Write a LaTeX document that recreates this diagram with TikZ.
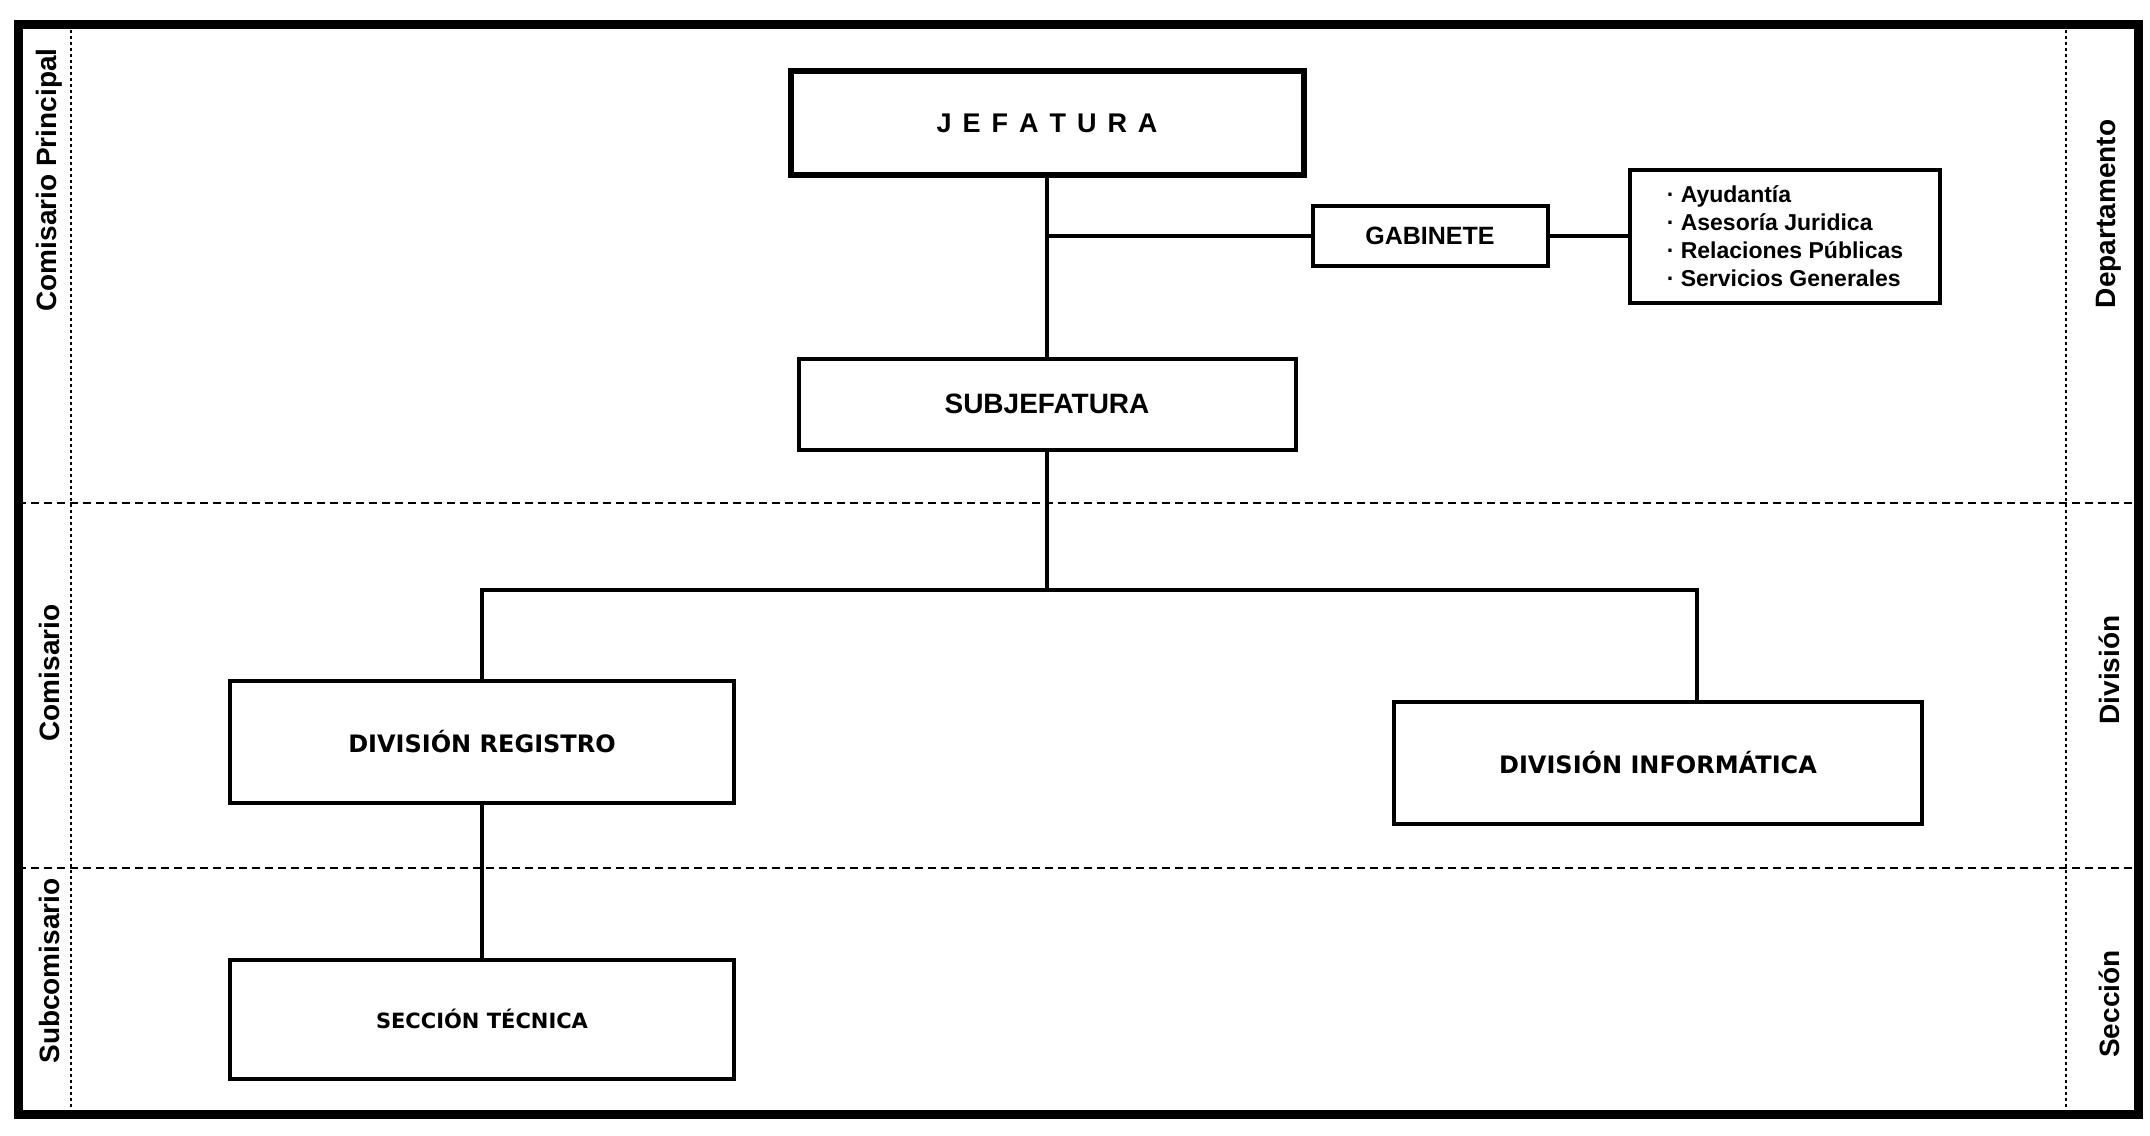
\documentclass[tikz,border=0pt]{standalone}
\usepackage{fontspec}
\setmainfont{Liberation Sans}
\newfontfamily\verdfont{DejaVu Sans}
\usetikzlibrary{positioning}

\begin{document}
\begin{tikzpicture}[x=0.5pt, y=-0.5pt,
    caja/.style={draw, line width=2pt, inner sep=0pt, font=\fontsize{14}{16}\selectfont\bfseries},
    cajadiv/.style={caja, minimum width=252pt, minimum height=61pt, font=\verdfont\fontsize{12}{14}\selectfont\bfseries},
    linea/.style={line width=1.8pt},
    nivel/.style={rotate=90, font=\fontsize{14}{16}\selectfont\bfseries},
    corte/.style={line width=0.9pt, dash pattern=on 4pt off 2.5pt},
    guia/.style={line width=0.9pt, dash pattern=on 1.5pt off 1.5pt}]

    % Tamaño de la hoja
    \useasboundingbox (0,0) rectangle (2150,1135);

    % Marco y líneas de nivel
    \draw[line width=4.5pt] (18,24) rectangle (2138,1114);
    \draw[corte] (18,503) -- (2138,503);
    \draw[corte] (18,868) -- (2138,868);
    \draw[guia] (71,24) -- (71,1114);
    \draw[guia] (2066,24) -- (2066,1114);

    % Grados (izquierda)
    \node[nivel] (gradoA) at (49,180) {Comisario Principal};
    \node[nivel] (gradoB) at (49,673) {Comisario};
    \node[nivel] (gradoC) at (49,971) {Subcomisario};

    % Unidades (derecha)
    \node[nivel] (unidA) at (2109,214) {Departamento};
    \node[nivel] (unidB) at (2109,670) {División};
    \node[nivel] (unidC) at (2109,1004) {Sección};

    % Cajas del organigrama
    \node[caja, line width=3pt, minimum width=256.5pt, minimum height=52pt,
          font=\fontsize{13.5}{16}\selectfont\bfseries] (jef) at (1047,123)
          {J\kern5.5pt E\kern5.5pt F\kern5.5pt A\kern5.5pt T\kern5.5pt U\kern5.5pt R\kern5.5pt A};
    \node[caja, minimum width=117.5pt, minimum height=30pt,
          font=\fontsize{12.5}{15}\selectfont\bfseries] (gab) at (1430,236) {GABINETE};
    \node[caja, minimum width=155pt, minimum height=66.5pt, align=left,
          font=\fontsize{11.5}{14}\selectfont\bfseries] (serv) at (1785,236)
          {· Ayudantía\\· Asesoría Juridica\\· Relaciones Públicas\\· Servicios Generales};
    \node[caja, minimum width=248.5pt, minimum height=45.5pt] (sub) at (1047,404) {SUBJEFATURA};
    \node[cajadiv] (divreg) at (482,742) {DIVISIÓN REGISTRO};
    \node[cajadiv, minimum width=264pt] (divinf) at (1658,763) {DIVISIÓN INFORMÁTICA};
    \node[cajadiv, minimum height=59.5pt, font=\verdfont\fontsize{10.5}{13}\selectfont\bfseries] (secc) at (482,1019) {SECCIÓN TÉCNICA};

    % Conectores
    \coordinate (rama) at (1047,590);
    \coordinate (ramaR) at (1697,590);
    \draw[linea] (jef.south) -- (sub.north);
    \draw[linea] (jef.south |- gab.west) -- (gab.west);
    \draw[linea] (gab.east) -- (serv.west);
    \draw[linea] (sub.south) -- (rama);
    \draw[linea] (divreg.north) -- (divreg.north |- rama) -- (ramaR) -- (ramaR |- divinf.north);
    \draw[linea] (divreg.south) -- (secc.north);
\end{tikzpicture}
\end{document}
